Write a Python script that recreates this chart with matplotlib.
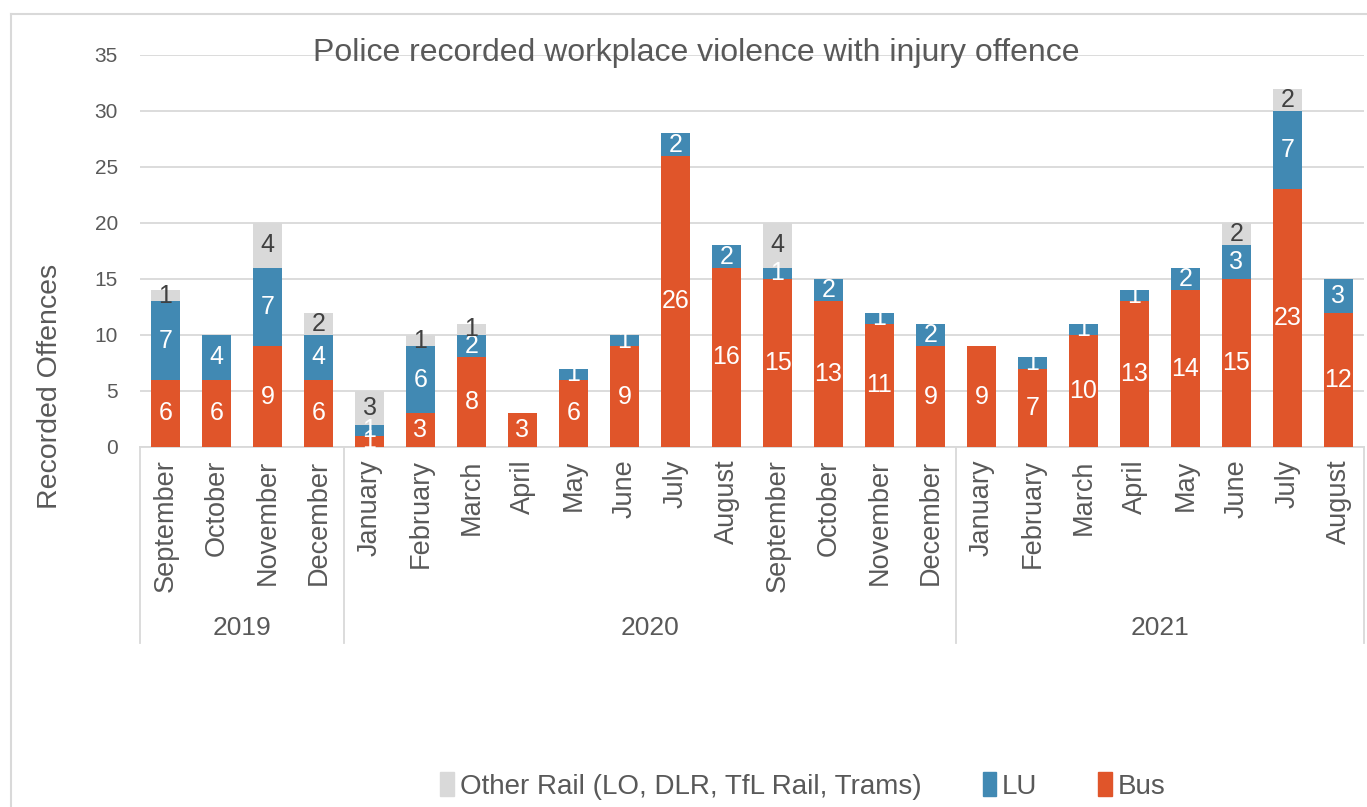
import numpy as np
import matplotlib.pyplot as plt
from matplotlib.lines import Line2D
from matplotlib.patches import Patch

plt.rcParams['font.family'] = ['Liberation Sans', 'DejaVu Sans']

months = ['September', 'October', 'November', 'December',
          'January', 'February', 'March', 'April', 'May', 'June', 'July',
          'August', 'September', 'October', 'November', 'December',
          'January', 'February', 'March', 'April', 'May', 'June', 'July',
          'August']
years = ['2019', '2020', '2021']
year_counts = [4, 12, 8]

bus = [6, 6, 9, 6,
       1, 3, 8, 3, 6, 9, 26, 16, 15, 13, 11, 9,
       9, 7, 10, 13, 14, 15, 23, 12]
lu = [7, 4, 7, 4,
      1, 6, 2, 0, 1, 1, 2, 2, 1, 2, 1, 2,
      0, 1, 1, 1, 2, 3, 7, 3]
other_rail = [1, 0, 4, 2,
              3, 1, 1, 0, 0, 0, 0, 0, 4, 0, 0, 0,
              0, 0, 0, 0, 0, 2, 2, 0]

C_BUS = '#E0552A'
C_LU = '#4189B3'
C_OTHER = '#D9D9D9'
TXT = '#595959'
GRID = '#D9D9D9'

W, H = 1367, 807
fig = plt.figure(figsize=(W / 100, H / 100), dpi=100)

# axes placed in pixel terms
x0, x1, y0, y1 = 140, 1364, 447, 55
ax = fig.add_axes([x0 / W, 1 - y0 / H, (x1 - x0) / W, (y0 - y1) / H])

x = np.arange(len(months))
bw = 0.57
bus_a = np.array(bus)
lu_a = np.array(lu)
oth_a = np.array(other_rail)

ax.bar(x, bus_a, bw, color=C_BUS, zorder=3)
ax.bar(x, lu_a, bw, bottom=bus_a, color=C_LU, zorder=3)
ax.bar(x, oth_a, bw, bottom=bus_a + lu_a, color=C_OTHER, zorder=3)

# segment labels
for i in x:
    for vals, base, col in [(bus_a, 0, 'white'), (lu_a, bus_a, 'white'),
                            (oth_a, bus_a + lu_a, '#404040')]:
        v = vals[i]
        if v == 0:
            continue
        b = base if np.isscalar(base) else base[i]
        ax.text(i, b + v / 2, str(v), ha='center', va='center',
                fontsize=18, color=col, zorder=4)

ax.set_xlim(-0.5, len(months) - 0.5)
ax.set_ylim(0, 35)
ax.set_yticks(range(0, 36, 5))
ax.yaxis.grid(True, color=GRID, linewidth=1.3, zorder=0)
ax.set_axisbelow(True)
for s in ['top', 'right', 'left']:
    ax.spines[s].set_visible(False)
ax.spines['bottom'].set_color(GRID)
ax.spines['bottom'].set_linewidth(1.3)
ax.tick_params(axis='y', length=0, pad=16, labelsize=15, labelcolor=TXT)
ax.set_xticks(x)
ax.set_xticklabels(months, rotation=90, fontsize=19.5, color=TXT)
ax.tick_params(axis='x', length=0, pad=9)

# year grouping below the month labels
sep_y = (y0 - 643) / (y0 - y1)
year_y = (y0 - 628) / (y0 - y1)
trans = ax.get_xaxis_transform()
edges = np.concatenate([[0], np.cumsum(year_counts)]) - 0.5
for e in edges:
    ax.add_line(Line2D([e, e], [0, sep_y], transform=trans, color=GRID,
                       linewidth=1.3, clip_on=False))
for yr, a, b in zip(years, edges[:-1], edges[1:]):
    ax.text((a + b) / 2, year_y, yr, transform=trans, ha='center',
            va='center', fontsize=19, color=TXT)

fig.text(50 / W, 1 - 386 / H, 'Recorded Offences', rotation=90,
         ha='center', va='center', fontsize=20.5, color=TXT)
fig.text(696 / W, 1 - 53 / H,
         'Police recorded workplace violence with injury offence',
         ha='center', va='center', fontsize=23, color=TXT)

handles = [Patch(color=C_OTHER), Patch(color=C_LU), Patch(color=C_BUS)]
labels = ['Other Rail (LO, DLR, TfL Rail, Trams)', 'LU', 'Bus']
leg = fig.legend(handles, labels, loc='center', ncol=3, frameon=False,
                 bbox_to_anchor=(803 / W, 1 - 786 / H), fontsize=20,
                 handlelength=0.5, handleheight=0.9, handletextpad=0.2,
                 columnspacing=2.2)
for t in leg.get_texts():
    t.set_color(TXT)

# chart frame
fig.add_artist(Line2D([11 / W, 11 / W], [0, 1 - 14 / H], color=GRID,
                      linewidth=1.5, transform=fig.transFigure))
fig.add_artist(Line2D([11 / W, 1], [1 - 14 / H, 1 - 14 / H], color=GRID,
                      linewidth=1.5, transform=fig.transFigure))

fig.savefig('out.png', dpi=100, facecolor='white')
